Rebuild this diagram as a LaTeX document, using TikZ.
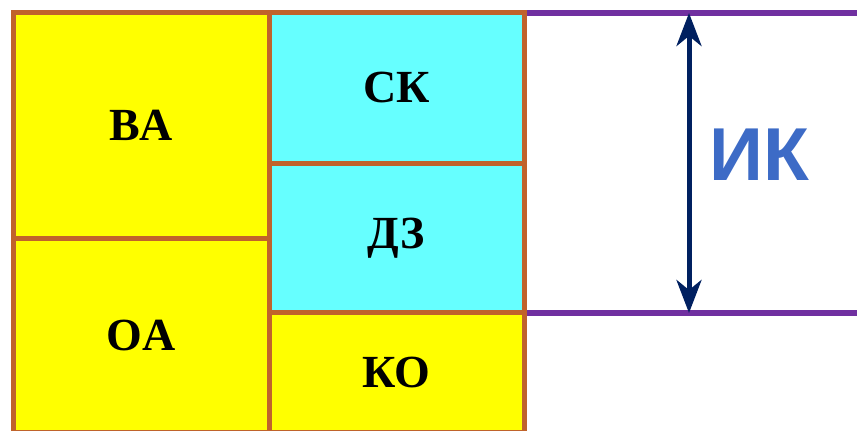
\documentclass[tikz,border=0pt]{standalone}
\usepackage{fontspec}
\setmainfont{Liberation Serif}
\newfontfamily\ikfont{Liberation Sans}
\usetikzlibrary{arrows.meta}
\definecolor{cellbrown}{RGB}{192,99,43}
\definecolor{cellyellow}{RGB}{255,255,0}
\definecolor{cellcyan}{RGB}{102,255,255}
\definecolor{linepurple}{RGB}{112,48,160}
\definecolor{arrownavy}{RGB}{0,32,96}
\definecolor{ikblue}{RGB}{61,107,198}
\begin{document}
\begin{tikzpicture}[x=1pt,y=-1pt,
  cell/.style={draw=cellbrown,line width=5pt,inner sep=0pt,outer sep=0pt,anchor=north west,
    font=\fontsize{46}{50}\selectfont\bfseries,text=black},
  ycell/.style={cell,fill=cellyellow},
  ccell/.style={cell,fill=cellcyan},
  pline/.style={draw=linepurple,line width=5.5pt},
  dimarrow/.style={draw=arrownavy,line width=5pt,
    {Stealth[length=33pt,width=25pt,inset=10pt]}-{Stealth[length=33pt,width=25pt,inset=10pt]}}]
\useasboundingbox (0,0) rectangle (857,431);
% right-side guide lines (behind the cells)
\coordinate (tl) at (524,13);
\coordinate (tr) at (857,13);
\coordinate (bl) at (524,313);
\coordinate (br) at (857,313);
\draw[pline] (tl) -- (tr);
\draw[pline] (bl) -- (br);
% cells
\node[ycell,minimum width=255.5pt,minimum height=225.5pt] (va) at (13.5,12.5) {BA};
\node[ycell,minimum width=255.5pt,minimum height=194pt] (oa) at (13.5,238) {OA};
\node[ccell,minimum width=255pt,minimum height=150.5pt] (sk) at (269,12.5) {СК};
\node[ccell,minimum width=255pt,minimum height=149.5pt] (dz) at (269,163) {ДЗ};
\node[ycell,minimum width=255pt,minimum height=119.5pt] (ko) at (269,312.5) {КО};
% dimension arrow
\coordinate (at) at (689,13);
\coordinate (ab) at (689,313);
\draw[dimarrow] (at) -- (ab);
\node[text=ikblue,font=\ikfont\fontsize{75}{80}\selectfont\bfseries] (ik) at (759,155) {ИК};
\end{tikzpicture}
\end{document}
